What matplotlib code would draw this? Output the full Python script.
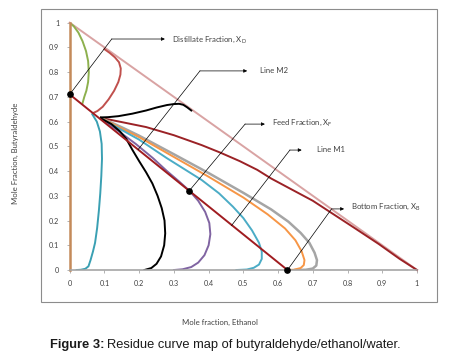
import matplotlib
matplotlib.use("Agg")
import matplotlib.pyplot as plt
from matplotlib.patches import Rectangle

# mole fraction ethanol (x), butyraldehyde (y)
edge_x = [0, 0]
edge_y = [0, 1]
hyp_x = [0, 1]
hyp_y = [1, 0]

green_x = [0, 0.012, 0.025, 0.037, 0.047, 0.053, 0.055, 0.053, 0.048, 0.042, 0.037]
green_y = [1, 0.985, 0.96, 0.925, 0.885, 0.845, 0.80, 0.76, 0.725, 0.70, 0.675]

red_x = [0.10, 0.115, 0.13, 0.142, 0.147, 0.146, 0.14, 0.128, 0.112, 0.095, 0.08, 0.068]
red_y = [0.893, 0.878, 0.86, 0.84, 0.815, 0.79, 0.76, 0.725, 0.69, 0.66, 0.643, 0.635]

black_top_x = [0.09, 0.11, 0.14, 0.18, 0.22, 0.25, 0.28, 0.30, 0.315, 0.327, 0.338, 0.35]
black_top_y = [0.617, 0.618, 0.622, 0.632, 0.645, 0.657, 0.667, 0.671, 0.672, 0.668, 0.658, 0.645]

long_x = [0.09, 0.15, 0.22, 0.30, 0.38, 0.433, 0.49, 0.54, 0.58, 0.64, 0.70, 0.76, 0.82, 0.89, 0.95, 1.0]
long_y = [0.615, 0.598, 0.578, 0.545, 0.505, 0.475, 0.44, 0.405, 0.37, 0.325, 0.28, 0.225, 0.17, 0.105, 0.045, 0.0]

gray_x = [0.09, 0.15, 0.20, 0.30, 0.40, 0.50, 0.58, 0.63, 0.665, 0.69, 0.705, 0.712, 0.71, 0.70, 0.68, 0.65]
gray_y = [0.615, 0.577, 0.543, 0.468, 0.392, 0.312, 0.245, 0.195, 0.15, 0.11, 0.07, 0.04, 0.018, 0.006, 0.001, 0.0]

orange_x = [0.09, 0.15, 0.20, 0.30, 0.40, 0.50, 0.57, 0.62, 0.65, 0.668, 0.676, 0.674, 0.665, 0.645, 0.62]
orange_y = [0.615, 0.572, 0.537, 0.457, 0.377, 0.293, 0.225, 0.168, 0.12, 0.075, 0.04, 0.02, 0.008, 0.001, 0.0]

cyan_x = [0.09, 0.15, 0.20, 0.28, 0.38, 0.43, 0.47, 0.50, 0.525, 0.545, 0.553, 0.553, 0.545, 0.53, 0.51, 0.48]
cyan_y = [0.613, 0.566, 0.527, 0.452, 0.364, 0.31, 0.256, 0.21, 0.16, 0.11, 0.075, 0.045, 0.022, 0.009, 0.002, 0.0]

purple_x = [0.09, 0.14, 0.19, 0.24, 0.28, 0.315, 0.345, 0.37, 0.39, 0.402, 0.405, 0.40, 0.388, 0.37, 0.35, 0.325, 0.30]
purple_y = [0.612, 0.562, 0.51, 0.452, 0.40, 0.358, 0.32, 0.28, 0.235, 0.19, 0.145, 0.10, 0.06, 0.03, 0.012, 0.003, 0.0]

black_low_x = [0.09, 0.12, 0.145, 0.163, 0.18, 0.20, 0.22, 0.238, 0.253, 0.265, 0.273, 0.275, 0.272, 0.263, 0.25, 0.235, 0.215]
black_low_y = [0.613, 0.59, 0.56, 0.53, 0.487, 0.44, 0.395, 0.35, 0.30, 0.25, 0.2, 0.148, 0.1, 0.055, 0.025, 0.008, 0.0]

teal_x = [0.065, 0.078, 0.087, 0.092, 0.093, 0.091, 0.088, 0.084, 0.079, 0.073, 0.067, 0.06, 0.054, 0.045, 0.032, 0.02]
teal_y = [0.63, 0.6, 0.56, 0.51, 0.45, 0.38, 0.31, 0.24, 0.17, 0.11, 0.075, 0.04, 0.015, 0.005, 0.001, 0.0]

# mass balance line through distillate, feed and bottom
xd = (0.0, 0.71)
xf = (0.344, 0.32)
xb = (0.627, 0.0)
m_x = [xd[0], xb[0]]
m_y = [xd[1], xb[1]]

ticks = [0, 0.1, 0.2, 0.3, 0.4, 0.5, 0.6, 0.7, 0.8, 0.9, 1]
tick_labels = ["0", "0.1", "0.2", "0.3", "0.4", "0.5", "0.6", "0.7", "0.8", "0.9", "1"]

fig = plt.figure(figsize=(4.55, 3.55), dpi=100)
fig.patches.append(Rectangle((40.7 / 455, 1 - 302 / 355), 396 / 455, 293 / 355,
                             transform=fig.transFigure, fill=False,
                             edgecolor="#8c8c8c", linewidth=0.8))
ax = fig.add_axes([0.1532, 0.2394, 0.7633, 0.6967])
ax.set_xlim(0, 1)
ax.set_ylim(0, 1)
for s in ["top", "right", "left"]:
    ax.spines[s].set_visible(False)
ax.spines["bottom"].set_color("#a6a6a6")
ax.spines["bottom"].set_linewidth(1.2)

lw = 1.4
ax.plot(hyp_x, hyp_y, color="#d9a3a3", lw=lw, clip_on=False)
ax.plot(green_x, green_y, color="#8db04e", lw=lw)
ax.plot(red_x, red_y, color="#c0504d", lw=lw)
ax.plot(long_x, long_y, color="#9b2226", lw=lw, clip_on=False)
ax.plot(gray_x, gray_y, color="#a5a5a5", lw=lw + 0.4)
ax.plot(orange_x, orange_y, color="#f79646", lw=lw)
ax.plot(cyan_x, cyan_y, color="#4bacc6", lw=lw)
ax.plot(purple_x, purple_y, color="#8064a2", lw=lw)
ax.plot(black_low_x, black_low_y, color="black", lw=lw)
ax.plot(black_top_x, black_top_y, color="black", lw=lw)
ax.plot(teal_x, teal_y, color="#3aa0b3", lw=lw)
ax.plot(m_x, m_y, color="#a01c20", lw=lw, clip_on=False)
ax.plot(edge_x, edge_y, color="#c48a5a", lw=1.8, clip_on=False)
ax.plot([xd[0], xf[0], xb[0]], [xd[1], xf[1], xb[1]], "o", color="black",
        ms=3.8, clip_on=False, zorder=5)

ax.set_xticks(ticks)
ax.set_xticklabels(tick_labels)
ax.set_yticks(ticks)
ax.set_yticklabels(tick_labels)
ax.tick_params(axis="both", labelsize=5.2, colors="#a6a6a6", labelcolor="#404040",
               length=2.5, width=0.6)
ax.tick_params(axis="x", pad=5)
ax.tick_params(axis="y", pad=5)
for t in ax.get_xticklabels() + ax.get_yticklabels():
    t.set_family("Lato")

# annotation arrows: (point, corner, arrow tip, text x, text y, label)
notes = [
    (xd, (0.121, 0.934), (0.274, 0.934), 0.295, 0.934, "Distillate Fraction, X$_\\mathregular{D}$"),
    ((0.197, 0.487), (0.375, 0.805), (0.511, 0.805), 0.548, 0.805, "Line M2"),
    (xf, (0.505, 0.590), (0.562, 0.590), 0.582, 0.595, "Feed Fraction, X$_\\mathregular{F}$"),
    ((0.466, 0.18), (0.634, 0.485), (0.668, 0.485), 0.711, 0.487, "Line M1"),
    (xb, (0.754, 0.247), (0.790, 0.247), 0.810, 0.255, "Bottom Fraction, X$_\\mathregular{B}$"),
]
for p, c, tip, tx, ty, lab in notes:
    ax.plot([p[0], c[0]], [p[1], c[1]], color="black", lw=0.5, clip_on=False, zorder=6)
    ax.annotate("", xy=tip, xytext=c,
                arrowprops=dict(arrowstyle="-|>", color="black", lw=0.5,
                                mutation_scale=5, shrinkA=0, shrinkB=0),
                annotation_clip=False, zorder=6)
    ax.text(tx, ty, lab, fontsize=5.6, family="Lato", color="#404040",
            va="center", ha="left")

fig.text(219.7 / 455, 1 - 322 / 355, "Mole fraction, Ethanol", fontsize=5.6,
         family="Lato", color="#404040", ha="center", va="center")
fig.text(15 / 455, 1 - 153 / 355, "Mole Fraction, Butyraldehyde", fontsize=5.6,
         family="Lato", color="#404040", ha="center", va="center", rotation=90)

# caption with bold figure number
cap1 = fig.text(50 / 455, 1 - 345 / 355, "Figure 3:", fontsize=9.3, fontweight="bold",
                family="Liberation Sans", color="#1a1a1a", va="center", ha="left")
fig.canvas.draw()
bb = cap1.get_window_extent()
fig.text((bb.x1 + 2.5) / 455, 1 - 345 / 355,
         "Residue curve map of butyraldehyde/ethanol/water.", fontsize=9.3,
         family="Liberation Sans", color="#1a1a1a", va="center", ha="left")

fig.savefig("out.png", dpi=100)
